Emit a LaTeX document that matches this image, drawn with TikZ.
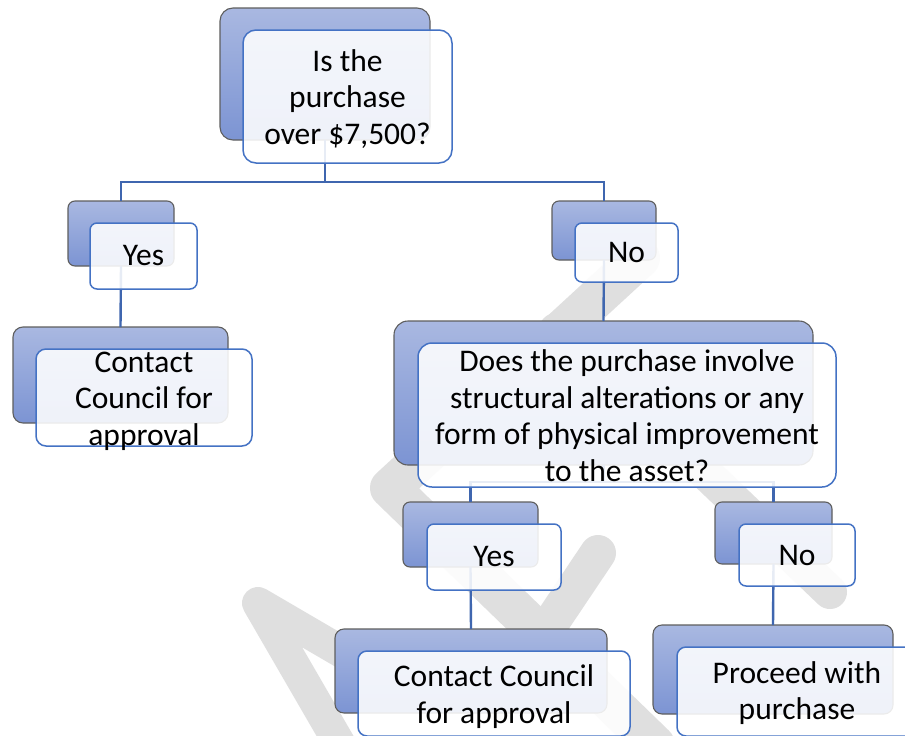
\documentclass[tikz,border=0pt]{standalone}
\usepackage{fontspec}
\setmainfont{Carlito}
\definecolor{bartop}{HTML}{A9B8E1}
\definecolor{barbot}{HTML}{7C94D3}
\definecolor{backedge}{HTML}{5E5E5E}
\definecolor{frontedge}{HTML}{4472C4}
\definecolor{conn}{HTML}{3F66AF}
\definecolor{wmark}{HTML}{DFDFDF}
\begin{document}
\begin{tikzpicture}[x=1pt,y=-1pt,
  backbox/.style={draw=backedge, line width=1.1pt, top color=bartop, bottom color=barbot, inner sep=0pt, outer sep=0pt},
  frontbox/.style={draw=frontedge, line width=1.5pt, fill=white, fill opacity=0.88, inner sep=0pt, outer sep=0pt},
  txt/.style={inner sep=0pt, align=center, font=\fontsize{31.5}{36.5}\selectfont},
  link/.style={draw=conn, line width=2.4pt},
  wm/.style={draw=wmark, line width=34pt, line cap=round, line join=round}]
\path[use as bounding box, clip] (0,0) rectangle (905,736);
\fill[white] (0,0) rectangle (905,736);
% watermark
\draw[wm, line width=32pt] (342,748) -- (258,603) -- (395,683);
\draw[wm, line width=40pt] (640,258) -- (390,488) -- (655,745);
\draw[wm] (556,330) -- (830,592);
\draw[wm, line width=36pt] (545,632) -- (598,553);
% back boxes
\node[backbox, minimum width=210pt, minimum height=132pt, rounded corners=13pt] (bT) at (325,74) {};
\node[backbox, minimum width=106pt, minimum height=65pt, rounded corners=7pt] (bY1) at (121,233.5) {};
\node[backbox, minimum width=215pt, minimum height=96pt, rounded corners=10pt] (bC1) at (120.5,375) {};
\node[backbox, minimum width=104pt, minimum height=59pt, rounded corners=7pt] (bN1) at (604,230.5) {};
\node[backbox, minimum width=419pt, minimum height=144pt, rounded corners=14pt] (bB) at (603.5,393) {};
\node[backbox, minimum width=135pt, minimum height=65pt, rounded corners=7pt] (bY2) at (470.5,534.5) {};
\node[backbox, minimum width=117pt, minimum height=62pt, rounded corners=7pt] (bN2) at (773.5,533) {};
\node[backbox, minimum width=272pt, minimum height=84pt, rounded corners=9pt] (bC2) at (471,671) {};
\node[backbox, minimum width=240pt, minimum height=89pt, rounded corners=9pt] (bP) at (773,669.5) {};
% connectors
\coordinate (jT) at (325,182);
\coordinate (jB) at (603.5,482);
\draw[link] (bT.south) -- (jT);
\draw[link] (jT) -| (bY1.north);
\draw[link] (jT) -| (bN1.north);
\draw[link] (bY1.south) -- (bC1.north);
\draw[link] (bN1.south) -- (bB.north);
\draw[link] (bB.south) -- (jB);
\draw[link] (jB) -| (bY2.north);
\draw[link] (jB) -| (bN2.north);
\draw[link] (bY2.south) -- (bC2.north);
\draw[link] (bN2.south) -- (bP.north);
% front boxes
\node[frontbox, minimum width=209pt, minimum height=133pt, rounded corners=13pt] (fT) at (347.5,96.5) {};
\node[frontbox, minimum width=107pt, minimum height=66pt, rounded corners=7pt] (fY1) at (143.5,256) {};
\node[frontbox, minimum width=216pt, minimum height=97pt, rounded corners=10pt] (fC1) at (144,397.5) {};
\node[frontbox, minimum width=103pt, minimum height=59pt, rounded corners=7pt] (fN1) at (626.5,252.5) {};
\node[frontbox, minimum width=418pt, minimum height=144pt, rounded corners=14pt] (fB) at (627,415) {};
\node[frontbox, minimum width=134pt, minimum height=66pt, rounded corners=7pt] (fY2) at (494,557) {};
\node[frontbox, minimum width=116pt, minimum height=62pt, rounded corners=7pt] (fN2) at (797,555) {};
\node[frontbox, minimum width=272pt, minimum height=85pt, rounded corners=9pt] (fC2) at (494,693.5) {};
\node[frontbox, minimum width=240pt, minimum height=89pt, rounded corners=9pt] (fP) at (797,691.5) {};
% texts
\node[txt, yshift=-2.5pt] (tT) at (fT) {Is the\\purchase\\over \$7,500?};
\node[txt] (tY1) at (fY1) {Yes};
\node[txt, yshift=-3.5pt] (tC1) at (fC1) {Contact\\Council for\\approval};
\node[txt] (tN1) at (fN1) {No};
\node[txt, yshift=-0.5pt] (tB) at (fB) {Does the purchase involve\\structural alterations or any\\form of physical improvement\\to the asset?};
\node[txt] (tY2) at (fY2) {Yes};
\node[txt] (tN2) at (fN2) {No};
\node[txt, yshift=-3pt] (tC2) at (fC2) {Contact Council\\for approval};
\node[txt, yshift=-1.5pt] (tP) at (fP) {Proceed with\\purchase};
\end{tikzpicture}
\end{document}
